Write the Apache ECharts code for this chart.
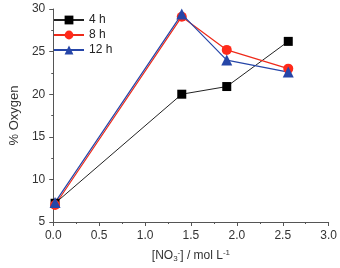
<!DOCTYPE html>
<html>
<head>
<meta charset="utf-8">
<script src="https://cdn.jsdelivr.net/npm/echarts@6/dist/echarts.min.js"></script>
<style>
  html, body { margin: 0; padding: 0; background: #fff; }
  #chart { width: 340px; height: 268px; }
</style>
</head>
<body>
<div id="chart"></div>
<script>
// 数据
var xNitrate = [0.02, 1.4, 1.89, 2.56];
var oxy4h = [7.2, 20.0, 20.9, 26.2];
var oxy8h = [7.0, 29.1, 25.2, 23.0];
var oxy12h = [7.3, 29.4, 24.0, 22.6];
var seriesNames = ['4 h', '8 h', '12 h'];

function pairs(ys) {
    return xNitrate.map(function (x, i) { return [x, ys[i]]; });
}

var myChart = echarts.init(document.getElementById('chart'));

var axisCommon = {
    axisLine: { show: true, lineStyle: { color: '#555', width: 1 } },
    axisTick: { show: true, inside: false, length: 4, lineStyle: { color: '#555' } },
    minorTick: { show: true, splitNumber: 2, length: 2, lineStyle: { color: '#555' } },
    splitLine: { show: false },
    axisLabel: { color: '#333', fontSize: 12, fontFamily: 'Liberation Sans' }
};

var option = {
    animation: false,
    grid: { left: 43, right: 5, top: 9, bottom: 42 },
    legend: {
        orient: 'vertical',
        left: 48,
        top: 9,
        itemGap: 3,
        itemWidth: 30,
        itemHeight: 11,
        textStyle: { color: '#222', fontSize: 12, fontFamily: 'Liberation Sans' },
        data: seriesNames
    },
    xAxis: Object.assign({
        type: 'value',
        min: 0,
        max: 3,
        interval: 0.5,
        name: '[NO{sub|3}{sup|-}] / mol L{sup|-1}',
        nameLocation: 'middle',
        nameGap: 27,
        nameTextStyle: {
            color: '#333', fontSize: 12, fontFamily: 'Liberation Sans',
            rich: {
                sub: { fontSize: 8, verticalAlign: 'bottom', padding: [6, 0, 0, 0] },
                sup: { fontSize: 8, verticalAlign: 'top', padding: [0, 0, 6, 0] }
            }
        }
    }, axisCommon, {
        axisLabel: {
            color: '#333', fontSize: 12, fontFamily: 'Liberation Sans',
            formatter: function (v) { return v.toFixed(1); }
        }
    }),
    yAxis: Object.assign({
        type: 'value',
        min: 5,
        max: 30,
        interval: 5,
        name: '% Oxygen',
        nameLocation: 'middle',
        nameGap: 26,
        nameTextStyle: { color: '#333', fontSize: 13, fontFamily: 'Liberation Sans' }
    }, axisCommon),
    series: [
        {
            name: seriesNames[0],
            type: 'line',
            data: pairs(oxy4h),
            symbol: 'rect',
            symbolSize: 9,
            itemStyle: { color: '#000' },
            lineStyle: { color: '#222', width: 1 }
        },
        {
            name: seriesNames[1],
            type: 'line',
            data: pairs(oxy8h),
            symbol: 'circle',
            symbolSize: 10,
            itemStyle: { color: '#ff2a1a' },
            lineStyle: { color: '#ee2a1a', width: 1.2 }
        },
        {
            name: seriesNames[2],
            type: 'line',
            data: pairs(oxy12h),
            symbol: 'triangle',
            symbolSize: 11,
            itemStyle: { color: '#2646a8' },
            lineStyle: { color: '#2646a8', width: 1.2 }
        }
    ]
};

myChart.setOption(option);
</script>
</body>
</html>
